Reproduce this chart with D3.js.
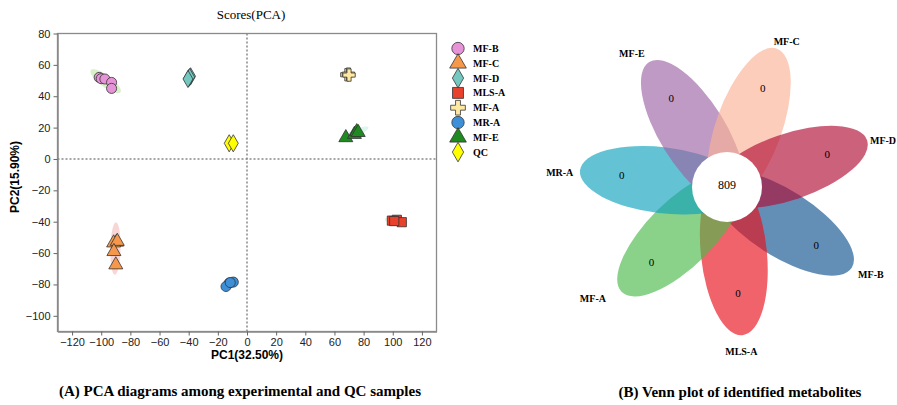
<!DOCTYPE html>
<html>
<head>
<meta charset="utf-8">
<script src="https://cdn.jsdelivr.net/npm/d3@7"></script>
<style>
  body { margin: 0; background: #fff; }
  svg { display: block; }
</style>
</head>
<body>
<svg width="897" height="405"></svg>
<script>
// PCA score groups (PC1, PC2)
const groups = ["MF-B", "MF-C", "MF-D", "MLS-A", "MF-A", "MR-A", "MF-E", "QC"];
const groupColors = ["#e693d8", "#f6984c", "#74c8bf", "#e8412c", "#ffe8a2", "#3d8fd8", "#1f8a1f", "#ffff00"];
const groupShapes = ["circle", "triangle", "diamond", "square", "cross", "circle", "triangle", "diamond"];
const ellipseColors = ["#cdeebb", "#f7cccc", "#d8f0e8", "#dff3d0", "#f3f0d0", "#d6e8f7", "#d3f2e8", "#fbfbd0"];
const pcaPoints = [
  [[-101.4, 52.0], [-100.0, 51.2], [-97.5, 51.0], [-92.9, 48.8], [-92.9, 45.0]],
  [[-89.5, -53.0], [-91.5, -53.5], [-89.0, -52.5], [-91.3, -59.0], [-90.0, -67.5]],
  [[-40.0, 51.5], [-38.7, 52.7], [-39.3, 52.2], [-40.5, 51.0]],
  [[99.4, -39.3], [102.8, -38.8], [106.2, -40.3], [101.0, -39.6]],
  [[68.5, 53.7], [69.6, 54.1], [70.0, 53.5]],
  [[-12.2, -79.1], [-14.4, -81.3], [-9.4, -78.5], [-11.5, -78.8]],
  [[67.8, 13.6], [73.7, 15.7], [75.3, 17.4], [76.3, 16.9]],
  [[-12.2, 10.0], [-9.4, 10.0]]
];
const xTicks = [-120, -100, -80, -60, -40, -20, 0, 20, 40, 60, 80, 100, 120];
const yTicks = [-100, -80, -60, -40, -20, 0, 20, 40, 60, 80];

// Venn (flower) sets, clockwise from bottom
const vennSets = ["MLS-A", "MF-A", "MR-A", "MF-E", "MF-C", "MF-D", "MF-B"];
const vennCounts = [0, 0, 0, 0, 0, 0, 0];
const vennColors = ["#e8101a", "#4bba4b", "#10a2bb", "#9c64a4", "#f9b295", "#b00d35", "#10538f"];
const vennCore = 809;

const svg = d3.select("svg");

// ---------- PCA panel ----------
const x = d3.scaleLinear().domain([-130, 130]).range([57.5, 436.5]);
const y = d3.scaleLinear().domain([-110, 80]).range([331.5, 33.5]);

svg.append("text")
  .attr("x", 251).attr("y", 19)
  .attr("text-anchor", "middle")
  .style("font-family", "Liberation Serif")
  .style("font-size", "13px")
  .text("Scores(PCA)");

// confidence ellipses from group covariance
const symMap = { circle: d3.symbolCircle, triangle: d3.symbolTriangle, diamond: d3.symbolDiamond, square: d3.symbolSquare, cross: d3.symbolCross };
const ell = svg.append("g");
pcaPoints.forEach((pts, gi) => {
  if (pts.length < 3) return;
  const mx = d3.mean(pts, d => d[0]), my = d3.mean(pts, d => d[1]);
  let sxx = 0, syy = 0, sxy = 0;
  pts.forEach(d => { sxx += (d[0] - mx) ** 2; syy += (d[1] - my) ** 2; sxy += (d[0] - mx) * (d[1] - my); });
  sxx /= pts.length - 1; syy /= pts.length - 1; sxy /= pts.length - 1;
  const tr = sxx + syy, det = sxx * syy - sxy * sxy;
  const l1 = tr / 2 + Math.sqrt(tr * tr / 4 - det), l2 = tr / 2 - Math.sqrt(tr * tr / 4 - det);
  const th = Math.abs(sxy) < 1e-9 ? (sxx >= syy ? 0 : Math.PI / 2) : Math.atan2(l1 - sxx, sxy);
  const k = 2.6;
  const a = k * Math.sqrt(l1 + 0.6), b = k * Math.sqrt(Math.max(l2, 0) + 0.6);
  const ring = d3.range(0, 361, 6).map(t => {
    const r = t * Math.PI / 180;
    const ux = a * Math.cos(r), uy = b * Math.sin(r);
    return [x(mx + ux * Math.cos(th) - uy * Math.sin(th)), y(my + ux * Math.sin(th) + uy * Math.cos(th))];
  });
  ell.append("path")
    .attr("d", d3.line()(ring) + "Z")
    .attr("fill", ellipseColors[gi])
    .attr("opacity", 0.8);
});

// zero reference lines
svg.append("line").attr("x1", x(0)).attr("x2", x(0)).attr("y1", y(80)).attr("y2", y(-110))
  .attr("stroke", "#888").attr("stroke-width", 1.5).attr("stroke-dasharray", "2,2");
svg.append("line").attr("x1", x(-130)).attr("x2", x(130)).attr("y1", y(0)).attr("y2", y(0))
  .attr("stroke", "#888").attr("stroke-width", 1.5).attr("stroke-dasharray", "2,2");

// points
pcaPoints.forEach((pts, gi) => {
  svg.append("g").selectAll("path")
    .data(pts)
    .join("path")
    .attr("transform", d => `translate(${x(d[0])},${y(d[1])})`)
    .attr("d", d3.symbol().type(symMap[groupShapes[gi]]).size(groupShapes[gi] == "circle" ? 80 : 85))
    .attr("fill", groupColors[gi])
    .attr("stroke", "#333")
    .attr("stroke-width", 0.8);
});

// frame
svg.append("rect")
  .attr("x", x(-130)).attr("y", y(80))
  .attr("width", x(130) - x(-130)).attr("height", y(-110) - y(80))
  .attr("fill", "none").attr("stroke", "#8a8a8a").attr("stroke-width", 1.3);

const xAxis = svg.append("g")
  .attr("transform", `translate(0,${y(-110)})`)
  .call(d3.axisBottom(x).tickValues(xTicks).tickSize(4).tickSizeOuter(0));
const yAxis = svg.append("g")
  .attr("transform", `translate(${x(-130)},0)`)
  .call(d3.axisLeft(y).tickValues(yTicks).tickSize(4).tickSizeOuter(0));
[xAxis, yAxis].forEach(g => {
  g.select(".domain").attr("stroke", "#8a8a8a").attr("stroke-width", 1.5);
  g.selectAll(".tick line").attr("stroke", "#666");
  g.selectAll(".tick text")
    .style("font-family", "Liberation Sans")
    .style("font-size", "11px")
    .attr("fill", "#222");
});

svg.append("text")
  .attr("x", 247).attr("y", 359)
  .attr("text-anchor", "middle")
  .style("font-family", "Liberation Sans")
  .style("font-size", "12px")
  .style("font-weight", "bold")
  .text("PC1(32.50%)");
svg.append("text")
  .attr("transform", "translate(19,177) rotate(-90)")
  .attr("text-anchor", "middle")
  .style("font-family", "Liberation Sans")
  .style("font-size", "12px")
  .style("font-weight", "bold")
  .text("PC2(15.90%)");

// legend
const legend = svg.append("g").selectAll("g")
  .data(groups)
  .join("g")
  .attr("transform", (d, i) => `translate(458,${48.5 + i * 14.8})`);
legend.append("path")
  .attr("d", (d, i) => d3.symbol().type(symMap[groupShapes[i]]).size(groupShapes[i] == "diamond" ? 110 : 120)())
  .attr("fill", (d, i) => groupColors[i])
  .attr("stroke", "#333")
  .attr("stroke-width", 0.8);
legend.append("text")
  .attr("x", 15).attr("y", 3.5)
  .style("font-family", "Liberation Serif")
  .style("font-size", "10px")
  .style("font-weight", "bold")
  .text(d => d);

svg.append("text")
  .attr("x", 240).attr("y", 396)
  .attr("text-anchor", "middle")
  .style("font-family", "Liberation Serif")
  .style("font-size", "15px")
  .style("font-weight", "bold")
  .text("(A) PCA diagrams among experimental and QC samples");

// ---------- Venn flower panel ----------
const cx = 727, cy = 188;
const step = 360 / vennSets.length;
const baseAngle = 84;
const petalA = 83, petalB = 33, petalD = 65;
// small label nudges (angle offset in degrees, radius) per petal
const labelPlace = [[1, 164], [5, 174], [-1.5, 168], [-3.5, 165], [2.5, 158], [2, 163], [-1.5, 168]];
const venn = svg.append("g").attr("transform", `translate(${cx},${cy})`);
const drawOrder = ["MF-B", "MLS-A", "MF-A", "MR-A", "MF-E", "MF-C", "MF-D"];
drawOrder.forEach(name => {
  const i = vennSets.indexOf(name);
  const ang = baseAngle + i * step;
  venn.append("ellipse")
    .attr("transform", `rotate(${ang}) translate(${petalD},0)`)
    .attr("rx", petalA).attr("ry", petalB)
    .attr("fill", vennColors[i])
    .attr("fill-opacity", 0.65);
});
venn.append("circle").attr("cy", -1).attr("r", 35).attr("fill", "#fff");
venn.append("text")
  .attr("y", 1)
  .attr("text-anchor", "middle")
  .style("font-family", "Liberation Serif")
  .style("font-size", "12px")
  .text(vennCore);
vennSets.forEach((name, i) => {
  const r = (baseAngle + i * step) * Math.PI / 180;
  venn.append("text")
    .attr("x", 106 * Math.cos(r)).attr("y", 106 * Math.sin(r) + 4)
    .attr("text-anchor", "middle")
    .style("font-family", "Liberation Serif")
    .style("font-size", "11px")
    .text(vennCounts[i]);
  const lr = (baseAngle + i * step + labelPlace[i][0]) * Math.PI / 180;
  venn.append("text")
    .attr("x", labelPlace[i][1] * Math.cos(lr)).attr("y", labelPlace[i][1] * Math.sin(lr) + 3.5)
    .attr("text-anchor", "middle")
    .style("font-family", "Liberation Serif")
    .style("font-size", "10px")
    .style("font-weight", "bold")
    .text(name);
});

svg.append("text")
  .attr("x", 740).attr("y", 397)
  .attr("text-anchor", "middle")
  .style("font-family", "Liberation Serif")
  .style("font-size", "15px")
  .style("font-weight", "bold")
  .text("(B) Venn plot of identified metabolites");
</script>
</body>
</html>
